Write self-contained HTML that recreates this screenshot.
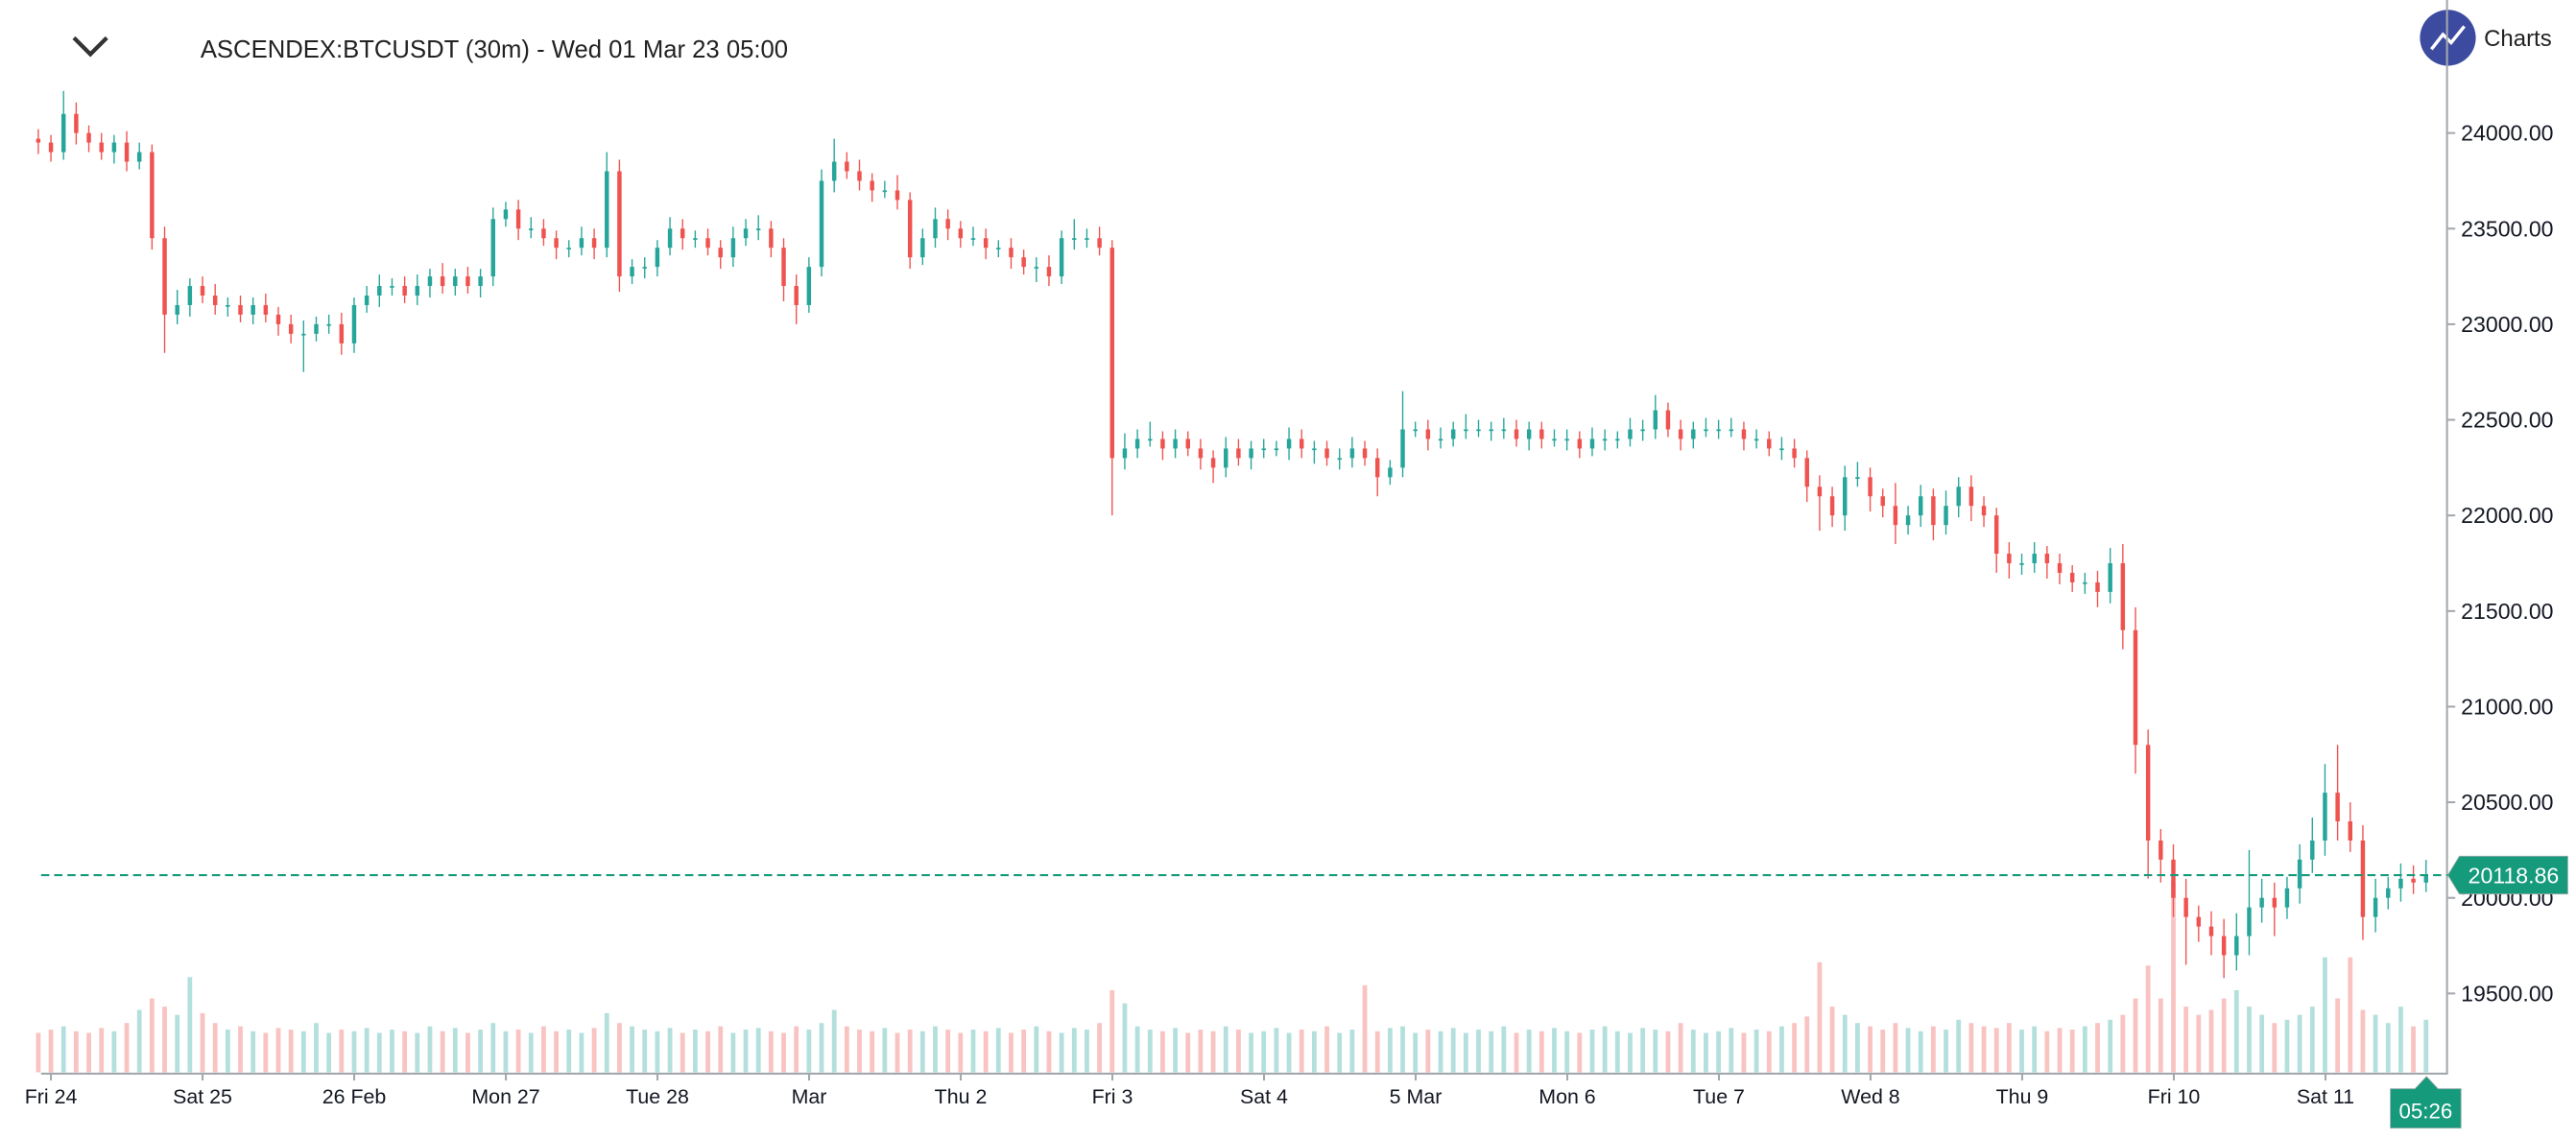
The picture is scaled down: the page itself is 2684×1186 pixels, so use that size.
<!DOCTYPE html>
<html><head><meta charset="utf-8"><style>
html,body{margin:0;padding:0;background:#fff;width:2684px;height:1186px;overflow:hidden}
svg{display:block;font-family:"Liberation Sans",sans-serif}
</style></head><body>
<svg id="chart" width="2684" height="1186" viewBox="0 0 1568 693" preserveAspectRatio="none" xmlns="http://www.w3.org/2000/svg">
  <g>
    <path d="M45 23 L55 33 L65 23" fill="none" stroke="#333" stroke-width="2.5"/>
    <text x="122" y="35" font-size="15" fill="#222">ASCENDEX:BTCUSDT (30m) - Wed 01 Mar 23 05:00</text>
  </g>
  <g>
    <circle cx="1490" cy="23" r="17" fill="#3c4ba0"/>
    <path d="M1480 30 L1487 21 L1492 26 L1500 16" fill="none" stroke="#fff" stroke-width="2"/>
    <text x="1512" y="28" font-size="14" fill="#222">Charts</text>
  </g>
  <g id="vol"></g>
  <g id="candles"></g>
  <line x1="1489.5" y1="0" x2="1489.5" y2="654" stroke="#a3a8ae" stroke-width="1.2"/>
  <line x1="25" y1="653.8" x2="1490" y2="653.8" stroke="#a3a8ae" stroke-width="1.2"/>
  <g id="yaxis"></g>
  <g id="xaxis"></g>
  <g id="last"></g>
  <g>
    <path d="M1455 663 L1470 663 L1477 655.5 L1484 663 L1498 663 L1498 687 L1455 687 Z" fill="#159a7c" stroke="#9aa" stroke-width="0.5"/>
    <text x="1476.5" y="681" font-size="13" fill="#fff" text-anchor="middle">05:26</text>
  </g>
</svg>
<script>
const closes=[23950,
23900,24100,24000,23950,23900,23950,23850,23900,23450,23050,23100,23200,
23150,23100,23100,23050,23100,23050,23000,22950,22950,23000,23000,22900,
23100,23150,23200,23200,23150,23200,23250,23200,23250,23200,23250,23550,
23600,23500,23500,23450,23400,23400,23450,23400,23800,23250,23300,23300,
23400,23500,23450,23450,23400,23350,23450,23500,23500,23400,23200,23100,
23300,23750,23850,23800,23750,23700,23700,23650,23350,23450,23550,23500,
23450,23450,23400,23400,23350,23300,23300,23250,23450,23450,23450,23400,
22300,22350,22400,22400,22350,22400,22350,22300,22250,22350,22300,22350,
22350,22350,22400,22350,22350,22300,22300,22350,22300,22200,22250,22450,
22450,22400,22400,22450,22450,22450,22450,22450,22400,22450,22400,22400,
22400,22350,22400,22400,22400,22450,22450,22550,22450,22400,22450,22450,
22450,22450,22400,22400,22350,22350,22300,22150,22100,22000,22200,22200,
22100,22050,21950,22000,22100,21950,22050,22150,22050,22000,21800,21750,
21750,21800,21750,21700,21650,21650,21600,21750,21400,20800,20300,20200,
20000,19900,19850,19800,19700,19800,19950,20000,19950,20050,20200,20300,
20550,20400,20300,19900,20000,20050,20100,20080,20118.86];
const wickUp=[50,
40,120,60,40,50,40,60,50,40,60,80,40,
50,60,40,50,40,60,40,50,70,40,50,60,
40,50,60,40,50,60,40,70,40,50,40,60,
40,50,60,50,40,40,60,50,100,60,40,50,
40,60,50,40,50,40,60,50,70,40,50,60,
50,60,120,50,60,40,50,80,40,50,60,50,
40,60,50,40,50,40,50,60,40,100,50,60,
40,80,50,90,40,50,40,50,40,60,50,40,
50,40,60,50,40,40,50,60,40,50,40,200,
40,50,60,40,80,50,40,60,50,40,40,50,
50,40,60,50,40,60,50,80,40,50,40,60,
50,60,40,50,40,60,50,40,60,50,60,80,
50,40,120,50,60,40,80,50,60,50,40,60,
50,60,40,50,40,50,60,80,100,120,80,60,
80,100,60,80,90,120,300,100,80,60,80,120,
150,250,100,80,100,60,80,70,80];
const wickDn=[60,
50,40,60,50,40,60,50,40,60,200,50,60,
40,50,60,40,50,40,60,50,200,40,50,60,
50,40,60,50,40,50,60,40,50,40,60,50,
40,60,50,40,60,50,40,60,50,80,40,60,
50,40,60,50,40,60,50,40,60,50,80,100,
40,50,60,40,50,60,40,50,60,40,50,60,
50,40,60,50,60,40,80,50,40,60,50,40,
300,60,50,40,60,50,40,60,80,50,40,60,
50,40,60,50,80,40,60,50,40,100,40,50,
40,60,50,40,50,40,60,50,40,60,50,40,
60,50,40,60,50,40,60,50,40,60,50,40,
50,40,60,50,40,60,50,80,180,60,80,50,
80,60,100,50,60,80,50,60,80,60,100,80,
60,50,80,60,50,60,80,60,100,150,200,120,
100,250,80,100,120,80,100,80,150,60,80,70,
80,100,60,120,80,60,70,60,50];
const volumes=[24,
26,28,25,24,27,25,30,38,45,40,35,58,
36,30,26,28,25,24,27,26,25,30,24,26,
25,27,24,26,25,24,28,25,27,24,26,30,
25,26,24,28,25,26,24,27,36,30,28,26,
25,27,24,26,25,28,24,26,27,25,24,28,
26,30,38,28,26,25,27,24,26,25,28,26,
24,26,25,27,24,26,28,25,24,27,26,30,
50,42,28,26,25,27,24,26,25,28,26,24,
25,27,24,26,25,28,24,26,53,25,27,28,
24,26,25,27,24,26,25,28,24,26,25,27,
25,24,26,28,25,24,27,26,25,30,26,24,
25,27,24,26,25,28,30,34,67,40,35,30,
28,26,30,27,25,28,26,32,30,28,27,30,
26,28,25,27,26,28,30,32,35,45,65,45,
116,40,35,38,45,50,40,35,30,32,35,40,
70,45,70,38,35,30,40,28,32];
const dayLabels=["Fri 24","Sat 25","26 Feb","Mon 27","Tue 28","Mar","Thu 2","Fri 3","Sat 4","5 Mar","Mon 6","Tue 7","Wed 8","Thu 9","Fri 10","Sat 11"];
const priceTicks=[24000,23500,23000,22500,22000,21500,21000,20500,20000,19500];

const NS="http://www.w3.org/2000/svg";
function el(tag,attrs,parent){const e=document.createElementNS(NS,tag);for(const k in attrs)e.setAttribute(k,attrs[k]);parent.appendChild(e);return e;}
const yP=p=>81+(24000-p)*0.11644;
const xI=i=>31+7.69*(i-1);
const xDay=d=>31+92.3*d;
const yV=v=>653-v;
const UP="#26a69a",DN="#ef5350";

const gv=document.getElementById('vol'),gc=document.getElementById('candles');
for(let i=0;i<closes.length;i++){
  const c=closes[i],o=i>0?closes[i-1]:closes[0]+20;
  const up=c>=o;
  const h=Math.max(o,c)+(wickUp[i]||50),l=Math.min(o,c)-(wickDn[i]||50);
  const x=xI(i);
  const v=el('rect',{x:x-1.4,y:yV(volumes[i]||25),width:2.8,height:volumes[i]||25,fill:up?UP:DN,'fill-opacity':0.35},gv);
  
  
  const g=el('g',{},gc);
  
  
  el('line',{x1:x,x2:x,y1:yP(h),y2:yP(l),stroke:up?UP:DN,'stroke-width':0.8},g);
  const yt=yP(Math.max(o,c)),yb=yP(Math.min(o,c));
  el('rect',{x:x-1.3,y:yt,width:2.6,height:Math.max(1,yb-yt),fill:up?UP:DN},g);
}
const gy=document.getElementById('yaxis');
priceTicks.forEach(p=>{
  const y=yP(p);
  el('line',{x1:1490,x2:1494.5,y1:y,y2:y,stroke:'#a3a8ae','stroke-width':1.2},gy);
  const t=el('text',{x:1498,y:y+4.7,'font-size':13.5,fill:'#131722'},gy);
  
  
  t.textContent=p.toFixed(2);
});
const gx=document.getElementById('xaxis');
dayLabels.forEach((s,d)=>{
  const x=xDay(d);
  el('line',{x1:x,x2:x,y1:654,y2:658,stroke:'#a3a8ae','stroke-width':1.2},gx);
  const t=el('text',{x:x,y:672,'font-size':12.5,fill:'#131722','text-anchor':'middle'},gx);
  
  
  t.textContent=s;
});
const gl=document.getElementById('last');
const last=closes[closes.length-1],ly=yP(last);
el('line',{x1:25,x2:1490,y1:ly,y2:ly,stroke:'#159a7c','stroke-width':1.2,'stroke-dasharray':'5,3'},gl);
el('path',{d:`M1490 ${ly} L1497 ${ly-11.5} L1563 ${ly-11.5} L1563 ${ly+11.5} L1497 ${ly+11.5} Z`,fill:'#159a7c',stroke:'#9aa','stroke-width':0.5},gl);
const lt=el('text',{x:1530,y:ly+4.8,'font-size':13.5,fill:'#fff','text-anchor':'middle'},gl);


lt.textContent=last.toFixed(2);
</script>
</body></html>
